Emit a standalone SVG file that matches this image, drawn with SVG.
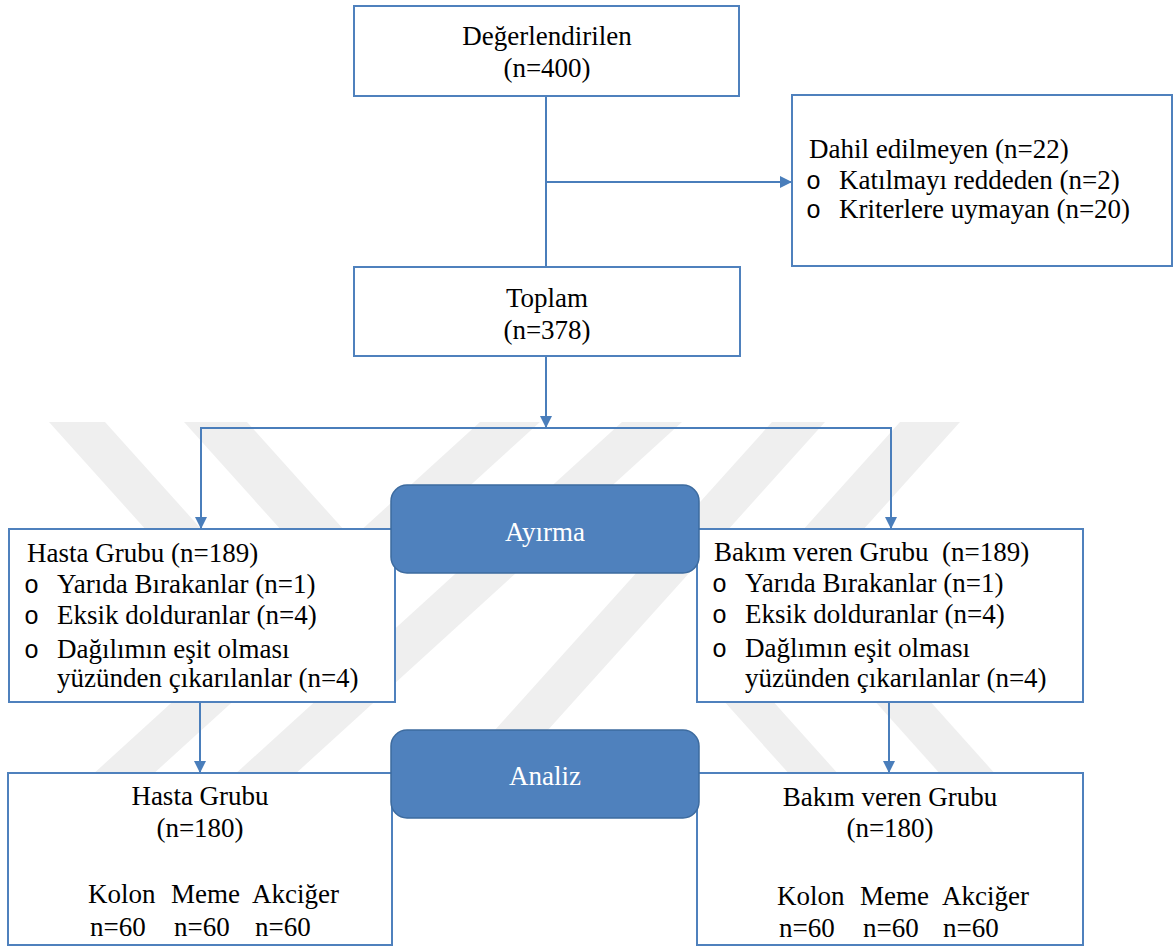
<svg xmlns="http://www.w3.org/2000/svg" width="1175" height="948" viewBox="0 0 1175 948">
<style>
.t{font-family:"Liberation Serif","Times New Roman",serif;font-size:27px;fill:#000}
.c{text-anchor:middle}
.w{font-family:"Liberation Serif","Times New Roman",serif;font-size:27px;fill:#fff;text-anchor:middle}
.b{font-family:"Liberation Mono","Courier New",monospace;font-size:25px;fill:#000}
.box{fill:#fff;stroke:#4f81bd;stroke-width:2}
.rb{fill:#4f81bd;stroke:#3d6b9f;stroke-width:1.5}
.ln{fill:none;stroke:#4a7ebb;stroke-width:2}
.wm{fill:#efefef}
</style>
<defs>
<marker id="ah2" viewBox="0 0 10 10" refX="10" refY="5" markerWidth="14" markerHeight="12" markerUnits="userSpaceOnUse" orient="auto">
<path d="M0,0 L10,5 L0,10 z" fill="#4a7ebb"/>
</marker>
</defs>
<rect width="1175" height="948" fill="#fff"/>
<g id="watermark">
<polygon class="wm" points="49,422 105,422 337,680 281,680"/>
<polygon class="wm" points="184,422 247,422 380,570 317,570"/>
<polygon class="wm" points="480,422 540,422 151,776 91,776"/>
<polygon class="wm" points="622,422 682,422 293,776 233,776"/>
<polygon class="wm" points="772,422 825,422 485,800 432,800"/>
<polygon class="wm" points="900,422 960,422 764,640 704,640"/>
<polygon class="wm" points="705,680 754,680 840,776 791,776"/>
<polygon class="wm" points="856,680 911,680 997,776 942,776"/>
</g>
<g id="connectors">
<line class="ln" x1="546" y1="96" x2="546" y2="267"/>
<line class="ln" x1="546" y1="182" x2="792" y2="182" marker-end="url(#ah2)"/>
<line class="ln" x1="546" y1="356" x2="546" y2="428" marker-end="url(#ah2)"/>
<polyline class="ln" points="201,528 201,428 891,428 891,528"/>
<line class="ln" x1="201" y1="500" x2="201" y2="529" marker-end="url(#ah2)"/>
<line class="ln" x1="891" y1="500" x2="891" y2="529" marker-end="url(#ah2)"/>
<line class="ln" x1="200" y1="702" x2="200" y2="773" marker-end="url(#ah2)"/>
<line class="ln" x1="889" y1="702" x2="889" y2="773" marker-end="url(#ah2)"/>
</g>
<g id="n-degerlendirilen">
<rect class="box" x="354" y="6" width="385" height="90"/>
<text class="t c" x="547" y="45">Değerlendirilen</text>
<text class="t c" x="547" y="77">(n=400)</text>
</g>
<g id="n-dahil">
<rect class="box" x="792" y="95" width="380" height="171"/>
<text class="t" x="809" y="158">Dahil edilmeyen (n=22)</text>
<text class="b" x="806" y="189">o</text>
<text class="t" x="839" y="189">Katılmayı reddeden (n=2)</text>
<text class="b" x="806" y="218">o</text>
<text class="t" x="839" y="218">Kriterlere uymayan (n=20)</text>
</g>
<g id="n-toplam">
<rect class="box" x="354" y="267" width="386" height="89"/>
<text class="t c" x="547" y="307">Toplam</text>
<text class="t c" x="547" y="339">(n=378)</text>
</g>
<g id="n-hasta1">
<rect class="box" x="9" y="529" width="386" height="173"/>
<text class="t" x="27" y="562">Hasta Grubu (n=189)</text>
<text class="b" x="24" y="593">o</text>
<text class="t" x="57" y="593">Yarıda Bırakanlar (n=1)</text>
<text class="b" x="24" y="624">o</text>
<text class="t" x="57" y="624">Eksik dolduranlar (n=4)</text>
<text class="b" x="24" y="658">o</text>
<text class="t" x="57" y="658">Dağılımın eşit olması</text>
<text class="t" x="57" y="687">yüzünden çıkarılanlar (n=4)</text>
</g>
<g id="n-bakim1">
<rect class="box" x="697" y="529" width="386" height="173"/>
<text class="t" x="714" y="561" xml:space="preserve">Bakım veren Grubu  (n=189)</text>
<text class="b" x="712" y="592">o</text>
<text class="t" x="745" y="592">Yarıda Bırakanlar (n=1)</text>
<text class="b" x="712" y="623">o</text>
<text class="t" x="745" y="623">Eksik dolduranlar (n=4)</text>
<text class="b" x="712" y="657">o</text>
<text class="t" x="745" y="657">Dağlımın eşit olması</text>
<text class="t" x="745" y="687">yüzünden çıkarılanlar (n=4)</text>
</g>
<g id="n-ayirma">
<rect class="rb" x="391" y="485" width="308" height="88" rx="16" ry="16"/>
<text class="w" x="545" y="541">Ayırma</text>
</g>
<g id="n-hasta2">
<rect class="box" x="8" y="773" width="384" height="172"/>
<text class="t c" x="200" y="805">Hasta Grubu</text>
<text class="t c" x="200" y="837">(n=180)</text>
<text class="t" x="88" y="903">Kolon</text>
<text class="t" x="171" y="903">Meme</text>
<text class="t" x="252" y="903">Akciğer</text>
<text class="t" x="90" y="936">n=60</text>
<text class="t" x="174" y="936">n=60</text>
<text class="t" x="255" y="936">n=60</text>
</g>
<g id="n-bakim2">
<rect class="box" x="697" y="773" width="386" height="172"/>
<text class="t c" x="890" y="806">Bakım veren Grubu</text>
<text class="t c" x="890" y="837">(n=180)</text>
<text class="t" x="777" y="905">Kolon</text>
<text class="t" x="860" y="905">Meme</text>
<text class="t" x="942" y="905">Akciğer</text>
<text class="t" x="779" y="937">n=60</text>
<text class="t" x="863" y="937">n=60</text>
<text class="t" x="943" y="937">n=60</text>
</g>
<g id="n-analiz">
<rect class="rb" x="391" y="730" width="308" height="88" rx="16" ry="16"/>
<text class="w" x="545" y="785">Analiz</text>
</g>
</svg>
